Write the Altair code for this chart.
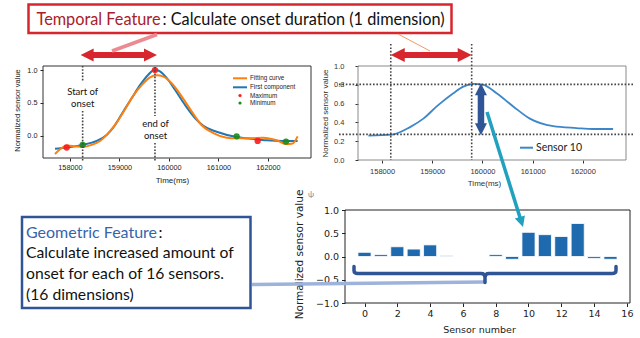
import altair as alt
import pandas as pd

# ---------------- data ----------------
# top-left panel: fitting curve / first component (time in ms, normalized value)
tl_fit_t = [157697, 157811, 157933, 158101, 158256, 158438, 158606, 158774, 158943, 159111,
            159279, 159448, 159616, 159751, 159885, 160054, 160256, 160458, 160660, 160896,
            161165, 161367, 161636, 161906, 162175, 162377, 162498, 162599]
tl_fit_v = [-0.28, -0.20, -0.15, -0.16, -0.17, -0.14, -0.08, 0.04, 0.20, 0.40,
            0.61, 0.77, 0.89, 0.92, 0.90, 0.80, 0.60, 0.37, 0.16, 0.04,
            -0.03, -0.04, -0.04, -0.03, -0.07, -0.13, -0.12, -0.01]
tl_comp_t = [157697, 157933, 158256, 158539, 158741, 158909, 159077, 159246, 159414, 159582,
             159717, 159818, 159953, 160121, 160323, 160525, 160694, 160963, 161367, 161704,
             161973, 162310, 162599]
tl_comp_v = [-0.20, -0.18, -0.14, -0.08, 0.01, 0.16, 0.37, 0.57, 0.77, 0.93,
             1.01, 0.98, 0.88, 0.70, 0.47, 0.27, 0.15, 0.06, -0.02, -0.05,
             -0.07, -0.08, -0.08]
tl_max_t = [157933, 159717, 161791]
tl_max_v = [-0.18, 1.00, -0.08]
tl_min_t = [158256, 161367, 162364]
tl_min_v = [-0.14, -0.01, -0.09]
tl_onset = [158256, 159717]
tl_legend = ["Fitting curve", "First component", "Maximum", "Minimum"]

# top-right panel: sensor 10
tr_t = [157727, 158193, 158557, 158822, 159088, 159419, 159618, 159817, 160016, 160282,
        160613, 160945, 161409, 161875, 162205, 162603]
tr_v = [0.26, 0.27, 0.35, 0.44, 0.57, 0.71, 0.78, 0.81, 0.80, 0.71,
        0.57, 0.44, 0.36, 0.34, 0.33, 0.33]
tr_onset = [158173, 159785]
tr_levels = [0.273, 0.805]
tr_arrow_t = 159970
tr_label = "Sensor 10"

# bottom panel: increase per sensor
sensors = list(range(16))
increase = [0.09, 0.04, 0.21, 0.16, 0.25, 0.02, 0.0, 0.0,
            0.04, -0.06, 0.52, 0.47, 0.43, 0.71, -0.04, -0.06]

time_ticks = [158000, 159000, 160000, 161000, 162000]

# ---------------- styles ----------------
W, H = 640, 338
ARIAL = "Liberation Sans"
DEJ = "DejaVu Sans"
CAL = "Lato"
ORANGE = "#ff7f0e"
BLUE = "#1f77b4"
RED = "#d7262e"
NAVY = "#2f5597"
TEAL = "#21a0c0"
BAR = "#1f6aae"
dummy = pd.DataFrame({"k": [0]})


def axis(orient, pos, values, fmt, font, lsize, title, tx, ty, tsize,
         tick=3, lpad=2, color="#222"):
    off = pos - H if orient == "bottom" else -pos
    kw = dict(orient=orient, offset=off, values=values, format=fmt,
              labelFont=font, labelFontSize=lsize, labelColor=color,
              tickColor=color, tickSize=tick, labelPadding=lpad,
              domain=False, grid=False, title=title, titleFont=font,
              titleFontSize=tsize, titleFontWeight="normal", titleColor=color,
              titleX=tx, titleY=ty, titleAlign="center", titleBaseline="middle",
              labelFlush=False, labelOverlap=False)
    if orient == "left":
        kw["titleAngle"] = 270
    return alt.Axis(**kw)


def seg(x1, y1, x2, y2, color, width, dash=None, cap="butt"):
    kw = dict(color=color, strokeWidth=width, strokeCap=cap)
    if dash:
        kw["strokeDash"] = dash
    return alt.Chart(dummy).mark_rule(**kw).encode(
        x=alt.value(x1), y=alt.value(y1), x2=alt.value(x2), y2=alt.value(y2))


def box(x1, y1, x2, y2, stroke, width, fill="white", fop=1):
    return alt.Chart(dummy).mark_rect(fill=fill, fillOpacity=fop, stroke=stroke,
                                      strokeWidth=width).encode(
        x=alt.value(x1), y=alt.value(y1), x2=alt.value(x2), y2=alt.value(y2))


def txt(s, x, y, size, color="#111", font=CAL, align="left", angle=0):
    kw = dict(text=s, align=align, baseline="middle", fontSize=size, font=font, color=color)
    if angle:
        kw["angle"] = angle
    return alt.Chart(dummy).mark_text(**kw).encode(x=alt.value(x), y=alt.value(y))


LEFT_HEAD = "M0,0L2,-1L2,1Z"
RIGHT_HEAD = "M0,0L-2,-1L-2,1Z"
UP_HEAD = "M0,0L-1,2L1,2Z"
DOWN_HEAD = "M0,0L-1,-2L1,-2Z"

# ---------------- top-left panel ----------------
tlx = alt.Scale(domain=[157455, 162869], range=[43, 311], nice=False, zero=False)
tly = alt.Scale(domain=[-0.34, 1.0625], range=[158, 66], nice=False, zero=False)
tl_ax_x = axis("bottom", 158, time_ticks, "d", ARIAL, 7.3, "Time(ms)", 172, 22.5, 8,
               tick=3, lpad=2)
tl_ax_y = axis("left", 43, [0, 0.5, 1.0], ".1f", ARIAL, 7.3, "Normalized sensor value",
               -26, 110, 7.5, tick=3, lpad=3)


def TX(f="t:Q"):
    return alt.X(f, scale=tlx, axis=tl_ax_x)


def TY(f="v:Q"):
    return alt.Y(f, scale=tly, axis=tl_ax_y)


fit_df = pd.DataFrame({"t": tl_fit_t, "v": tl_fit_v})
comp_df = pd.DataFrame({"t": tl_comp_t, "v": tl_comp_v})
max_df = pd.DataFrame({"t": tl_max_t, "v": tl_max_v})
min_df = pd.DataFrame({"t": tl_min_t, "v": tl_min_v})

tl_layers = [
    box(43, 66, 311, 158, "#333", 1, fop=0),
    alt.Chart(comp_df).mark_line(color=BLUE, strokeWidth=2, interpolate="monotone").encode(x=TX(), y=TY()),
    alt.Chart(fit_df).mark_line(color=ORANGE, strokeWidth=2, interpolate="monotone").encode(x=TX(), y=TY()),
    alt.Chart(max_df).mark_circle(color="#ff1a1a", size=40, opacity=0.9).encode(x=TX(), y=TY()),
    alt.Chart(min_df).mark_circle(color="#1a8a1a", size=40, opacity=0.9).encode(x=TX(), y=TY()),
]
for t, segs in zip(tl_onset, [[(66, 82), (111, 162)], [(67, 116), (143, 162)]]):
    for a, b in segs:
        tl_layers.append(
            alt.Chart(dummy).mark_rule(color="#444", strokeWidth=1.6, strokeDash=[1.6, 1.6]).encode(
                x=alt.X(datum=t, type="quantitative", scale=tlx, axis=tl_ax_x),
                y=alt.value(a), y2=alt.value(b)))
# red duration arrow (between onset start and end)
tl_layers += [
    alt.Chart(dummy).mark_rule(color=RED, strokeWidth=6, xOffset=9, x2Offset=-9).encode(
        x=alt.X(datum=tl_onset[0], type="quantitative", scale=tlx, axis=tl_ax_x),
        x2=alt.X2(datum=tl_onset[1]), y=alt.value(55)),
    alt.Chart(dummy).mark_point(shape=LEFT_HEAD, filled=True, size=169, color=RED, opacity=1, xOffset=-2).encode(
        x=alt.X(datum=tl_onset[0], type="quantitative", scale=tlx, axis=tl_ax_x), y=alt.value(55)),
    alt.Chart(dummy).mark_point(shape=RIGHT_HEAD, filled=True, size=169, color=RED, opacity=1, xOffset=2).encode(
        x=alt.X(datum=tl_onset[1], type="quantitative", scale=tlx, axis=tl_ax_x), y=alt.value(55)),
]
# annotations inside the panel
tl_layers += [
    txt("Start of", 82.7, 91.5, 9.5, align="center"),
    txt("onset", 82.7, 103.5, 9.5, align="center"),
    txt("end of", 155.5, 123.5, 9.5, align="center"),
    txt("onset", 155.5, 136, 9.5, align="center"),
    seg(233, 78.3, 247, 78.3, ORANGE, 2),
    seg(233, 87.3, 247, 87.3, BLUE, 2),
    alt.Chart(dummy).mark_circle(color="#ff1a1a", size=10, opacity=1).encode(x=alt.value(240), y=alt.value(95.5)),
    alt.Chart(dummy).mark_circle(color="#1a8a1a", size=10, opacity=1).encode(x=alt.value(240), y=alt.value(103)),
]
for lab, yy in zip(tl_legend, [78.3, 87.3, 95.5, 103]):
    tl_layers.append(txt(lab, 250, yy, 6.3, color="#222", font=ARIAL))
tl_panel = alt.layer(*tl_layers)

# ---------------- top-right panel ----------------
trx = alt.Scale(domain=[157520, 162860], range=[358, 626], nice=False, zero=False)
try_ = alt.Scale(domain=[0, 1], range=[160, 66], nice=False, zero=False)
tr_ax_x = axis("bottom", 160, time_ticks, "d", ARIAL, 7.5, "Time(ms)", 484, 23.5, 8,
               tick=3, lpad=4, color="#333")
tr_ax_y = axis("left", 358, [0, 0.2, 0.4, 0.6, 0.8, 1.0], ".1f", ARIAL, 7.5,
               "Normalized sensor value", -33, 113, 8, tick=3, lpad=11, color="#333")


def RX(f="t:Q"):
    return alt.X(f, scale=trx, axis=tr_ax_x)


def RY(f="v:Q"):
    return alt.Y(f, scale=try_, axis=tr_ax_y)


tr_df = pd.DataFrame({"t": tr_t, "v": tr_v})
tr_layers = [
    box(358, 66, 626, 160, "#8a8a8a", 1, fop=0),
    alt.Chart(tr_df).mark_line(color="#3d87c9", strokeWidth=1.8, interpolate="monotone").encode(x=RX(), y=RY()),
]
for lv in tr_levels:
    tr_layers.append(
        alt.Chart(dummy).mark_rule(color="#444", strokeWidth=1.6, strokeDash=[1.6, 1.8]).encode(
            y=alt.Y(datum=lv, type="quantitative", scale=try_, axis=tr_ax_y),
            x=alt.value(339), x2=alt.value(633)))
for t in tr_onset:
    tr_layers.append(
        alt.Chart(dummy).mark_rule(color="#444", strokeWidth=1.6, strokeDash=[1.6, 1.8]).encode(
            x=alt.X(datum=t, type="quantitative", scale=trx, axis=tr_ax_x),
            y=alt.value(44), y2=alt.value(160)))
tr_layers += [
    alt.Chart(dummy).mark_rule(color=RED, strokeWidth=6, xOffset=9, x2Offset=-9).encode(
        x=alt.X(datum=tr_onset[0], type="quantitative", scale=trx, axis=tr_ax_x),
        x2=alt.X2(datum=tr_onset[1]), y=alt.value(55)),
    alt.Chart(dummy).mark_point(shape=LEFT_HEAD, filled=True, size=196, color=RED, opacity=1).encode(
        x=alt.X(datum=tr_onset[0], type="quantitative", scale=trx, axis=tr_ax_x), y=alt.value(55)),
    alt.Chart(dummy).mark_point(shape=RIGHT_HEAD, filled=True, size=196, color=RED, opacity=1).encode(
        x=alt.X(datum=tr_onset[1], type="quantitative", scale=trx, axis=tr_ax_x), y=alt.value(55)),
    # vertical increase arrow
    alt.Chart(dummy).mark_rule(color=NAVY, strokeWidth=6.5, yOffset=9, y2Offset=-9).encode(
        x=alt.X(datum=tr_arrow_t, type="quantitative", scale=trx, axis=tr_ax_x),
        y=alt.Y(datum=tr_levels[1], type="quantitative", scale=try_, axis=tr_ax_y),
        y2=alt.Y2(datum=tr_levels[0])),
    alt.Chart(dummy).mark_point(shape=UP_HEAD, filled=True, size=144, color=NAVY, opacity=1, yOffset=-1).encode(
        x=alt.X(datum=tr_arrow_t, type="quantitative", scale=trx, axis=tr_ax_x),
        y=alt.Y(datum=tr_levels[1], type="quantitative", scale=try_, axis=tr_ax_y)),
    alt.Chart(dummy).mark_point(shape=DOWN_HEAD, filled=True, size=144, color=NAVY, opacity=1, yOffset=1).encode(
        x=alt.X(datum=tr_arrow_t, type="quantitative", scale=trx, axis=tr_ax_x),
        y=alt.Y(datum=tr_levels[0], type="quantitative", scale=try_, axis=tr_ax_y)),
    seg(520, 147.7, 533, 147.7, "#3d87c9", 2),
    txt(tr_label, 536, 147.7, 10.5, color="#222"),
]
tr_panel = alt.layer(*tr_layers)

# ---------------- bottom panel ----------------
bx = alt.Scale(domain=[-1.19, 16.19], range=[345, 630], nice=False, zero=False)
by = alt.Scale(domain=[-1, 1], range=[303, 210], nice=False, zero=False)
b_ax_x = axis("bottom", 303, list(range(0, 17, 2)), "d", DEJ, 9.5, "Sensor number", 479, 26, 9.5,
              tick=3.5, lpad=2)
b_ax_y = axis("left", 345, [-1, -0.5, 0, 0.5, 1], ".1f", DEJ, 9.5, "Normalized sensor value",
              -46, 254, 10.5, tick=3.5, lpad=3)
bar_df = pd.DataFrame({"s": sensors, "v": increase})
bar_layers = [
    box(345, 210, 630, 303, "#222", 1, fop=0),
    alt.Chart(bar_df).transform_calculate(s0="datum.s - 0.4", s1="datum.s + 0.4").mark_rect(
        color=BAR, stroke="white", strokeWidth=0.8).encode(
        x=alt.X("s0:Q", scale=bx, axis=b_ax_x), x2="s1:Q",
        y=alt.Y("v:Q", scale=by, axis=b_ax_y), y2=alt.Y2(datum=0)),
]
bar_panel = alt.layer(*bar_layers)

# ---------------- overlay annotations ----------------
BRACKET = ("M-131,-7 L-131,-3 Q-131,0 -127,0 L-4,0 Q0,0 0,4 L0,9 "
           "M0,4 Q0,0 4,0 L127,0 Q131,0 131,-3 L131,-7")
ann = [
    # title box
    box(28.5, 4.5, 451.5, 33, RED, 2.5),
    txt("Temporal Feature", 36.5, 19.5, 16.3, color="#a8202a"),
    txt(": Calculate onset duration (1 dimension)", 162.5, 19.5, 16.3, color="#111"),
    seg(157, 34.5, 112, 51, "#ec8a92", 3.5),
    seg(398, 34, 430, 51, "#f39a62", 1),
    # geometric box
    box(22, 217, 250.5, 308, NAVY, 2.5),
    txt("Geometric Feature", 26, 232.5, 16, color="#3763ad"),
    txt(":", 158.5, 232.5, 16, color="#111"),
    txt("Calculate increased amount of", 26, 253, 15.7),
    txt("onset for each of 16 sensors.", 26, 274, 15.7),
    txt("(16 dimensions)", 26, 295, 15.7),
    seg(252, 284.5, 484, 282, "#9db3dc", 3.5),
    alt.Chart(dummy).mark_point(shape=BRACKET, size=4, filled=False, stroke=NAVY, strokeWidth=3.5,
                                opacity=1, strokeCap="round", strokeJoin="round").encode(
        x=alt.value(485), y=alt.value(273.5)),
    # teal arrow
    seg(487, 112, 520.3, 218.5, TEAL, 3.5),
    alt.Chart(dummy).mark_point(shape=DOWN_HEAD, filled=True, size=110, color=TEAL, opacity=1,
                                angle=342.6).encode(x=alt.value(523), y=alt.value(227)),
    txt("ψ", 308, 195, 8, color="#888"),
]

chart = alt.layer(tl_panel, tr_panel, bar_panel, *ann).resolve_scale(
    x="independent", y="independent").properties(
    width=W, height=H, padding=0, autosize=alt.AutoSizeParams(type="none")
).configure(background="white").configure_view(strokeWidth=0)

chart.save("out.html", embed_options={"renderer": "svg", "actions": False})
